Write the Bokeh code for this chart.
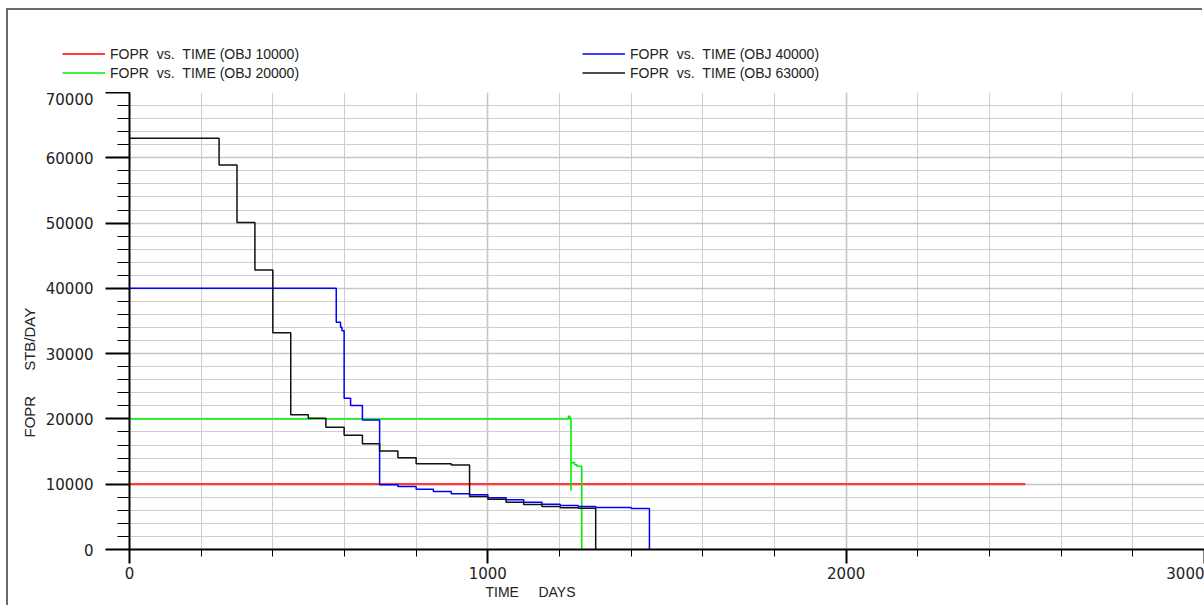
from bokeh.plotting import figure
from bokeh.models import SingleIntervalTicker, Range1d, Legend, LegendItem, Title
from bokeh.embed import file_html
from bokeh.resources import INLINE

# ---- data (TIME in days, FOPR in STB/DAY) ----
red_t = [0, 2500]
red_v = [10000, 10000]

green_t = [0, 1225, 1229, 1232, 1232, 1242, 1249, 1262]
green_v = [20000, 20400, 20000, 9000, 13300, 12970, 12760, 0]

blue_t = [0, 577, 589, 593, 599, 617, 650, 698, 749, 800, 848, 898, 950,
          1000, 1051, 1100, 1151, 1202, 1252, 1301, 1400, 1451]
blue_v = [40000, 34800, 34050, 33500, 23170, 22060, 19850, 9900, 9650, 9240,
          8880, 8530, 8380, 7920, 7610, 7240, 6940, 6740, 6590, 6430, 6280, 0]

black_t = [0, 250, 300, 350, 400, 450, 499, 548, 599, 650, 698, 749, 800,
           898, 949, 1000, 1051, 1100, 1151, 1202, 1252, 1301]
black_v = [63000, 58900, 50100, 42800, 33200, 20630, 20110, 18730, 17510,
           16190, 15090, 14040, 13130, 12940, 8120, 7700, 7240, 6890, 6590,
           6390, 6330, 0]

NB = "\u00a0"
labels = ["FOPR" + NB * 2 + "vs." + NB * 2 + "TIME (OBJ 10000)",
          "FOPR" + NB * 2 + "vs." + NB * 2 + "TIME (OBJ 20000)",
          "FOPR" + NB * 2 + "vs." + NB * 2 + "TIME (OBJ 40000)",
          "FOPR" + NB * 2 + "vs." + NB * 2 + "TIME (OBJ 63000)"]
colors = ["#ff3b3b", "#00ee00", "#0000ff", "#111111"]
widths = [2.2, 1.6, 1.5, 1.5]
x_title = "TIME" + NB * 5 + "DAYS"
y_title = "FOPR" + NB * 6 + "STB/DAY"
x_max = 3000

TICK_FONT = "DejaVu Sans"
TEXT_FONT = "Liberation Sans"
BORDER = "2px solid #6a6a6a"

series = [(red_t, red_v), (green_t, green_v), (blue_t, blue_v), (black_t, black_v)]

# ---------------- legend strip (its own root, nothing aligned to it) ----------------
leg_fig = figure(width=1196, height=84, min_border=0,
                 x_axis_location=None, y_axis_location=None,
                 x_range=Range1d(0, x_max), y_range=Range1d(-2, -1),
                 output_backend="svg", toolbar_location=None)
leg_fig.outline_line_color = None
leg_fig.xgrid.visible = False
leg_fig.ygrid.visible = False
leg_r = [leg_fig.step(t, v, mode="after", line_color=c, line_width=w)
         for (t, v), c, w in zip(series, colors, widths)]

legend_kw = dict(padding=0, margin=0, spacing=2, glyph_width=43, glyph_height=17,
                 label_height=17, label_standoff=5, border_line_color=None,
                 background_fill_alpha=0, label_text_font=TEXT_FONT,
                 label_text_font_size="14px", label_text_color="#222222")
leg1 = Legend(items=[LegendItem(label=labels[0], renderers=[leg_r[0]]),
                     LegendItem(label=labels[1], renderers=[leg_r[1]])],
              location=(54, 13), **legend_kw)
leg2 = Legend(items=[LegendItem(label=labels[2], renderers=[leg_r[2]]),
                     LegendItem(label=labels[3], renderers=[leg_r[3]])],
              location=(574, 13), **legend_kw)
leg_fig.add_layout(leg1)
leg_fig.add_layout(leg2)
leg_fig.styles = {"margin-left": "6px", "margin-top": "8px",
                  "border-left": BORDER, "border-top": BORDER}

# ---------------- main chart ----------------
p = figure(width=1196, frame_width=1075, frame_height=457,
           min_border_left=121, min_border_top=0,
           min_border_right=0, min_border_bottom=56,
           x_range=Range1d(0, x_max), y_range=Range1d(0, 70000),
           output_backend="svg", toolbar_location=None,
           background_fill_color="white", border_fill_color="white")
p.outline_line_color = None
p.styles = {"margin-left": "6px", "border-left": BORDER}

p.xaxis.ticker = SingleIntervalTicker(interval=1000, num_minor_ticks=5)
p.yaxis.ticker = SingleIntervalTicker(interval=10000, num_minor_ticks=5)
for ax in (p.xaxis[0], p.yaxis[0]):
    ax.axis_line_color = "black"
    ax.axis_line_width = 2
    ax.major_tick_line_color = "black"
    ax.major_tick_line_width = 2
    ax.minor_tick_line_color = "black"
    ax.minor_tick_line_width = 1
    ax.major_tick_in = 0
    ax.minor_tick_in = 0
    ax.major_label_text_font = TICK_FONT
    ax.major_label_text_font_size = "15px"
    ax.major_label_text_color = "#222222"
p.yaxis.major_tick_out = 24
p.yaxis.minor_tick_out = 12
p.yaxis.major_label_standoff = 12
p.xaxis.major_tick_out = 14
p.xaxis.minor_tick_out = 7
p.xaxis.major_label_standoff = 3

for g in (p.xgrid[0], p.ygrid[0]):
    g.grid_line_color = "#c6c6c6"
    g.grid_line_width = 1.6
    g.minor_grid_line_color = "#cfcfcf"
    g.minor_grid_line_width = 1

p.line(red_t, red_v, line_color=colors[0], line_width=widths[0])
for (t, v), c, w in list(zip(series, colors, widths))[1:]:
    p.step(t, v, mode="after", line_color=c, line_width=w)

p.add_layout(Title(text=x_title, align="left", offset=356, standoff=4,
                   vertical_align="top",
                   text_font=TEXT_FONT, text_font_size="14px",
                   text_font_style="normal", text_color="#222222"), "below")
p.add_layout(Title(text=y_title, align="left", offset=112, standoff=10,
                   text_font=TEXT_FONT, text_font_size="15px",
                   text_font_style="normal", text_color="#222222"), "left")

open("out.html", "w").write(file_html([leg_fig, p], INLINE))
